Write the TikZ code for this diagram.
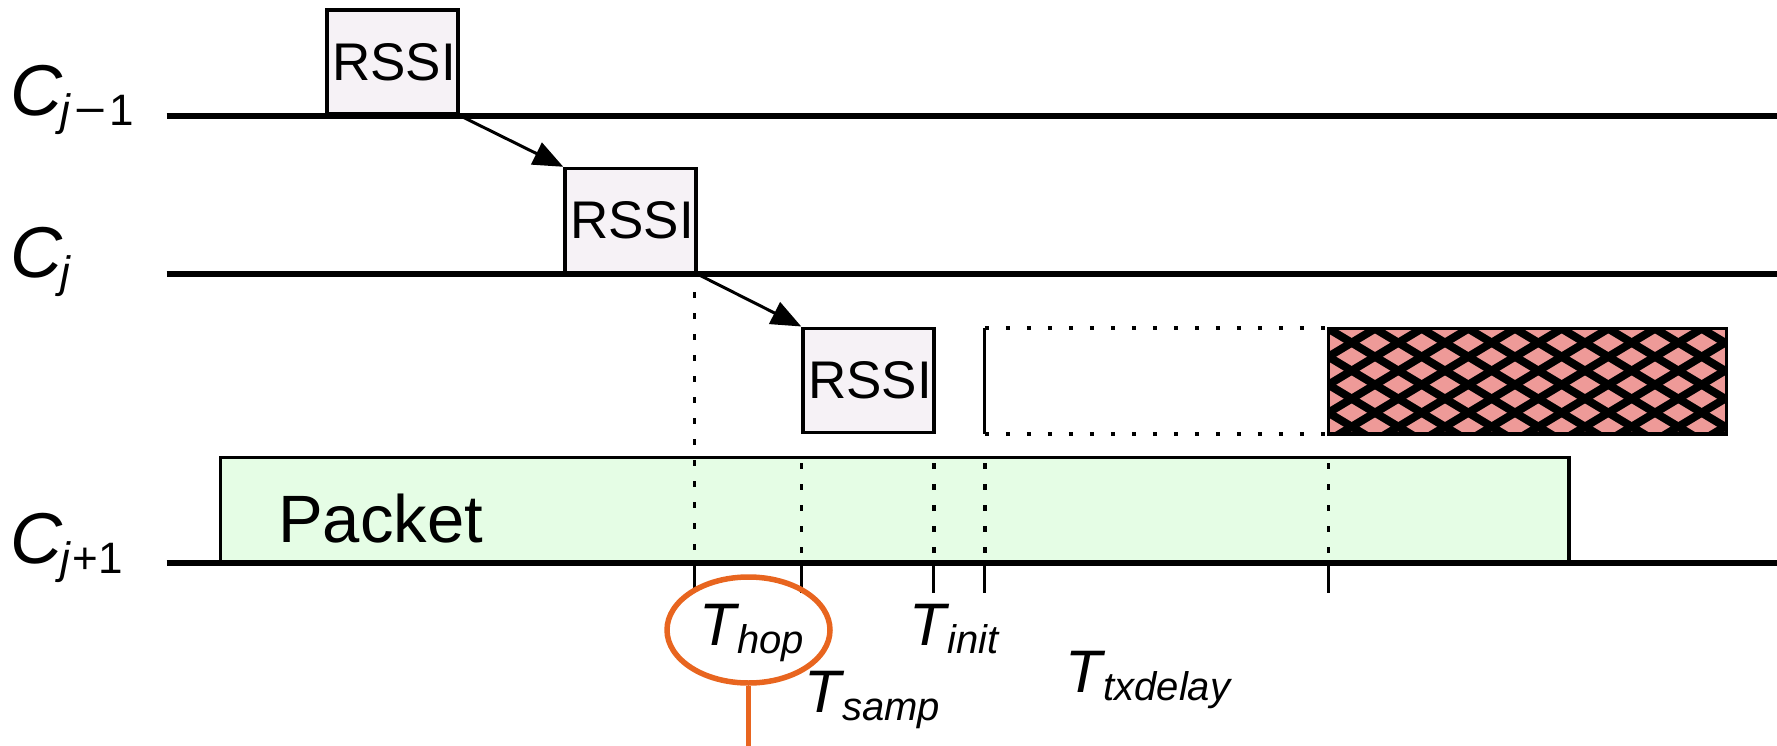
\documentclass[tikz,border=0pt]{standalone}
\usepackage{fontspec}
\setmainfont{Liberation Sans}
\usetikzlibrary{arrows.meta,shapes.geometric}
\definecolor{rssifill}{RGB}{246,242,246}
\definecolor{pktfill}{RGB}{229,253,229}
\definecolor{hatchfill}{RGB}{238,154,152}
\definecolor{markorange}{RGB}{232,101,31}

% subscript helpers for the channel and interval labels
\newcommand{\chansub}[1]{\kern-2pt\raisebox{-10pt}{\fontsize{44}{44}\selectfont #1}}
\newcommand{\timesub}[1]{\kern-2pt\raisebox{-8pt}{\fontsize{40}{40}\selectfont\textit{#1}}}
\newcommand{\widebin}[1]{\kern3pt\scalebox{1.25}[1]{#1}\kern3pt}

\begin{document}
\begin{tikzpicture}[x=1pt,y=-1pt,
  timeline/.style={line width=6pt},
  rssibox/.style={draw, line width=3.5pt, fill=rssifill, minimum width=131pt,
    minimum height=104pt, inner sep=0pt, anchor=south west,
    font=\fontsize{53}{53}\selectfont},
  hoparrow/.style={-{Triangle[length=30pt,width=24pt]}, line width=3pt},
  guide/.style={line width=3.5pt, dash pattern=on 6pt off 15pt},
  slotedge/.style={line width=4pt, dash pattern=on 4pt off 17pt},
  tickmark/.style={line width=3pt},
  chanlbl/.style={anchor=base west, inner sep=0pt, font=\fontsize{72}{72}\selectfont},
  timelbl/.style={anchor=base west, inner sep=0pt, font=\fontsize{60}{60}\selectfont},
]
\useasboundingbox (0,0) rectangle (1777,746);

% packet on the receiving channel
\node[draw, line width=3.5pt, fill=pktfill, anchor=south west, inner sep=0pt,
  minimum width=1348.7pt, minimum height=104.3pt] (pkt) at (218.7,563.3) {};
\node[anchor=base west, inner sep=0pt, font=\fontsize{67}{67}\selectfont]
  (pkttxt) at (278,542) {Packet};

% RSSI samples, one per channel
\node[rssibox] (r1) at (325.3,115.6) {\kern3pt RSSI};
\node[rssibox] (r2) at (563.3,274.3) {\kern3pt RSSI};
\node[rssibox] (r3) at (801.3,434) {\kern3pt RSSI};

% pending transmission slot and the transmission itself
\node[inner sep=0pt, anchor=south west, minimum width=343.4pt, minimum height=105.3pt]
  (slot) at (984.9,434) {};
\node[inner sep=0pt, anchor=south west, minimum width=397.7pt, minimum height=105.3pt,
  fill=hatchfill] (tx) at (1328.3,434) {};
\begin{scope}
  \clip (tx.south west) rectangle (tx.north east);
  \foreach \k in {-12,...,6}
    \draw[line width=8pt] (1328.3,328.7+\k*28) -- ++(420,252);
  \foreach \k in {0,...,18}
    \draw[line width=8pt] (1328.3,328.7+\k*28) -- ++(420,-252);
\end{scope}
\draw[line width=3.5pt] (tx.south west) rectangle (tx.north east);
\draw[line width=3pt] (slot.north west) -- (slot.south west);
\draw[slotedge] (slot.north west) -- (slot.north east);
\draw[slotedge] (slot.south west) -- (slot.south east);

% channel timelines
\coordinate (l1a) at (166.6,115.6);  \coordinate (l1b) at (1777,115.6);
\coordinate (l2a) at (166.6,274.3);  \coordinate (l2b) at (1777,274.3);
\coordinate (l3a) at (166.6,563.3);  \coordinate (l3b) at (1777,563.3);
\draw[timeline] (l1a) -- (l1b);
\draw[timeline] (l2a) -- (l2b);
\draw[timeline] (l3a) -- (l3b);

% hops between channels
\draw[hoparrow] (r1.south east) -- (r2.north west);
\draw[hoparrow] (r2.south east) -- (r3.north west);

% timing guides and ticks
\coordinate (g1) at (694.7,292);
\coordinate (g2) at (801.3,463);
\coordinate (g3) at (933.9,463);
\coordinate (g4) at (984.9,463);
\coordinate (g5) at (1328.3,463);
\foreach \g in {g1,g2,g3,g4,g5} {
  \draw[guide] (\g) -- (\g |- l3a);
  \draw[tickmark] (\g |- l3a) -- ++(0,30);
}

% channel labels
\node[chanlbl] (cprev) at (10,116) {\textit{C}\chansub{\textit{j}\widebin{−}1}};
\node[chanlbl] (ccur) at (10,277) {\textit{C}\chansub{\textit{j}}};
\node[chanlbl] (cnext) at (10,563) {\textit{C}\chansub{\textit{j}\kern1pt+1}};

% interval labels
\node[timelbl] (thop) at (699,645) {\textit{T}\timesub{hop}};
\node[timelbl] (tsamp) at (804,712) {\textit{T}\timesub{samp}};
\node[timelbl] (tinit) at (909,645) {\textit{T}\timesub{init}};
\node[timelbl] (ttx) at (1065,692) {\textit{T}\timesub{txdelay}};

% highlight on the hop interval
\node[ellipse, draw=markorange, line width=5.5pt, minimum width=163pt,
  minimum height=106pt, inner sep=0pt] (focus) at (748.5,630) {};
\coordinate (focusend) at (748.5,746);
\draw[markorange, line width=5.5pt] (focus.south) -- (focusend);
\end{tikzpicture}
\end{document}
